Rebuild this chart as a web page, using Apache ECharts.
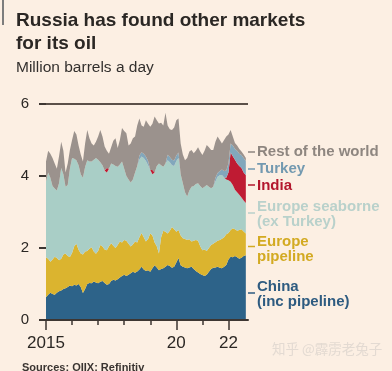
<!DOCTYPE html>
<html>
<head>
<meta charset="utf-8">
<script src="https://cdn.jsdelivr.net/npm/echarts@6/dist/echarts.min.js"></script>
<style>
html,body{margin:0;padding:0;background:#fcefe3;}
#chart{width:392px;height:371px;}
</style>
</head>
<body>
<div id="chart"></div>
<script>
// Monthly categories, Jan 2015 .. Oct 2022 (last category is the axis end, no data)
const startYear = 2015;
const monthCount = 94;
const months = Array.from({length: monthCount}, (_, i) =>
  (startYear + Math.floor(i / 12)) + '-' + String(i % 12 + 1).padStart(2, '0'));

const xLabelMonths = ['2015-01', '2020-01', '2022-01'];
const xLabelText = {'2015-01': '2015', '2020-01': '20', '2022-01': '22'};

const china = [
0.63,0.70,0.76,0.72,0.70,0.76,0.80,0.82,0.86,0.88,0.92,0.96,
0.94,0.98,0.96,1.00,0.92,0.75,0.86,1.00,1.03,1.02,1.07,1.04,
1.02,1.06,1.08,1.03,0.98,1.00,1.08,1.12,1.10,1.13,1.18,1.22,
1.26,1.22,1.26,1.30,1.34,1.31,1.35,1.40,1.48,1.40,1.36,1.38,
1.34,1.44,1.52,1.46,1.38,1.42,1.44,1.48,1.53,1.50,1.45,1.48,
1.60,1.72,1.52,1.48,1.46,1.44,1.46,1.48,1.42,1.36,1.32,1.28,
1.25,1.22,1.26,1.34,1.42,1.45,1.46,1.48,1.45,1.44,1.48,1.53,
1.68,1.76,1.74,1.78,1.74,1.70,1.73,1.78,1.80];

const europePipeline = [
1.11,1.00,0.86,0.96,1.06,0.96,0.86,0.88,0.96,0.97,0.86,0.79,
0.92,1.07,1.16,0.95,0.93,1.07,1.04,0.92,0.95,1.00,0.83,0.80,
0.90,1.02,0.96,0.93,0.96,1.05,1.05,0.94,0.90,0.95,1.00,0.93,
0.96,0.98,0.86,0.74,0.76,0.87,0.80,0.90,0.94,0.90,0.82,0.87,
1.06,0.91,0.63,0.59,0.47,0.88,1.04,0.97,0.87,0.98,1.13,1.04,
0.85,0.78,0.83,0.79,0.79,0.78,0.78,0.70,0.78,0.86,0.88,0.77,
0.69,0.74,0.66,0.66,0.66,0.67,0.70,0.72,0.77,0.82,0.82,0.85,
0.74,0.74,0.81,0.74,0.74,0.80,0.79,0.68,0.60];

const europeSeaborne = [
2.11,2.40,2.33,2.04,1.89,1.88,2.14,2.52,2.23,1.85,1.97,2.45,
2.64,2.43,2.32,2.35,2.20,2.13,2.35,2.52,2.42,2.38,2.55,2.66,
2.53,2.30,2.26,2.19,2.16,2.15,2.22,2.26,2.28,2.18,2.14,2.25,
1.98,1.80,1.78,1.78,1.80,1.92,2.13,2.15,2.12,2.20,2.24,2.05,
1.77,1.70,1.95,2.23,2.50,2.00,1.78,1.90,2.04,1.90,1.72,1.76,
1.97,2.00,1.70,1.53,1.30,1.21,1.36,1.52,1.52,1.56,1.60,1.67,
1.72,1.74,1.83,1.70,1.58,1.58,1.69,1.78,1.80,1.77,1.66,1.52,
1.46,1.34,1.20,1.10,1.07,0.98,0.88,0.86,0.85];

const india = [
0,0,0,0,0,0,0,0,0,0,0,0,
0,0,0,0,0,0,0,0,0,0,0,0,
0,0,0,0,0.12,0,0,0,0,0,0,0,
0,0,0,0,0,0,0,0,0,0,0,0,
0,0.12,0,0,0,0,0,0,0,0,0,0,
0,0,0,0,0,0,0,0,0,0,0,0,
0,0,0,0,0,0,0,0,0,0,0,0.05,
0.22,0.81,0.80,0.83,0.80,0.80,0.82,0.78,0.77];

const turkey = [
0,0,0,0,0,0,0,0,0,0,0,0,
0,0,0,0,0,0,0,0,0,0,0,0,
0,0,0,0,0,0,0,0,0,0,0,0,
0,0,0,0,0,0,0,0.12,0.12,0.12,0.12,0.12,
0,0,0,0,0,0,0,0,0.15,0.15,0.15,0.15,
0.15,0.15,0,0,0,0,0,0,0,0,0,0,
0,0,0,0,0,0,0.10,0.10,0.12,0.15,0.18,0.20,
0.25,0.25,0.30,0.30,0.35,0.34,0.36,0.40,0.40];

const restOfWorld = [
0.55,0.60,0.67,0.78,0.70,0.60,0.75,0.73,0.65,0.40,0.60,0.52,
0.50,0.77,0.71,0.55,0.55,0.45,0.65,0.84,0.65,0.50,0.40,0.45,
0.65,0.90,0.80,0.67,0.48,0.42,0.45,0.66,0.77,0.52,0.68,0.93,
1.05,1.19,0.95,1.08,1.15,1.00,1.12,1.03,0.74,0.75,1.01,1.03,
1.20,1.28,1.55,1.27,1.11,1.18,1.14,1.41,0.81,0.77,0.83,0.92,
0.98,0.95,0.85,0.80,0.89,1.07,1.08,1.02,0.91,0.92,1.00,0.96,
0.92,1.00,1.11,1.10,1.06,1.02,1.00,1.02,0.86,0.72,0.86,0.95,
0.80,0.38,0.25,0.17,0.15,0.13,0.10,0.10,0.08];

const seriesNames = ['China (inc pipeline)', 'Europe pipeline', 'Europe seaborne (ex Turkey)', 'India', 'Turkey', 'Rest of the world'];
const seriesValues = [china, europePipeline, europeSeaborne, india, turkey, restOfWorld];
const seriesColors = ['#2d6389', '#dbb42f', '#a9cec6', '#bf1b33', '#82a7bc', '#9b928d'];

const FONT = '"Liberation Sans", Arial, sans-serif';

const chart = echarts.init(document.getElementById('chart'), null, {renderer: 'canvas'});

const series = seriesValues.map((vals, k) => ({
  name: seriesNames[k],
  type: 'line',
  stack: 'total',
  symbol: 'none',
  showSymbol: false,
  lineStyle: {width: 0},
  areaStyle: {color: seriesColors[k], opacity: 1},
  itemStyle: {color: seriesColors[k]},
  data: vals,
  z: 2
}));

const labelDefs = [
  {lines: ['Rest of the world'], y: 152, color: '#8e8680', tickY: 152},
  {lines: ['Turkey'], y: 169.5, color: '#7399b0', tickY: 169},
  {lines: ['India'], y: 186, color: '#b3172d', tickY: 185},
  {lines: ['Europe seaborne', '(ex Turkey)'], y: 207, color: '#b9d1cb', tickY: 213},
  {lines: ['Europe', 'pipeline'], y: 242, color: '#d3aa22', tickY: 246.5},
  {lines: ['China', '(inc pipeline)'], y: 287, color: '#2e5b80', tickY: 293}
];

const graphics = [
  {type: 'rect', left: 2, top: 0, shape: {width: 2, height: 25}, style: {fill: '#7d7d7d'}},
  {type: 'text', left: 16, top: 11, style: {text: 'Russia has found other markets', font: 'bold 19px ' + FONT, fill: '#2b2724'}},
  {type: 'text', left: 16, top: 34, style: {text: 'for its oil', font: 'bold 19px ' + FONT, fill: '#2b2724'}},
  {type: 'text', left: 16, top: 60, style: {text: 'Million barrels a day', font: '15.5px ' + FONT, fill: '#33302e'}},
  {type: 'text', left: 22, top: 362, style: {text: 'Sources: OIIX; Refinitiv', font: 'bold 11px ' + FONT, fill: '#3a3431'}},
  {type: 'text', left: 272, top: 342, style: {text: '知乎 @霹雳老兔子', font: '13.5px "Noto Sans CJK SC"', fill: '#e3dad2'}}
];
labelDefs.forEach(d => {
  graphics.push({type: 'line', shape: {x1: 248, y1: d.tickY, x2: 255, y2: d.tickY}, style: {stroke: d.color, lineWidth: 1.5}});
  d.lines.forEach((t, j) => {
    graphics.push({type: 'text', left: 257, top: d.y - 8 + j * 15.5, style: {text: t, font: 'bold 15px ' + FONT, fill: d.color}});
  });
});

const isYearStart = (idx) => idx % 12 === 0;
const isLabelled = (idx) => xLabelMonths.indexOf(months[idx]) >= 0;

chart.setOption({
  animation: false,
  backgroundColor: '#fcefe3',
  grid: {left: 46, width: 202, top: 104, bottom: 51, containLabel: false},
  xAxis: [{
    type: 'category', data: months, boundaryGap: false,
    axisLine: {show: true, lineStyle: {color: '#3d3632', width: 2}},
    axisTick: {show: true, interval: isYearStart, length: 5, lineStyle: {color: '#3d3632', width: 1.5}},
    axisLabel: {show: true, interval: isLabelled, formatter: v => xLabelText[v] || '', margin: 15,
      color: '#2b2724', fontSize: 17, fontFamily: FONT},
    splitLine: {show: false},
    z: 5
  }, {
    type: 'category', data: months, boundaryGap: false, position: 'bottom',
    axisLine: {show: false},
    axisTick: {show: true, interval: isLabelled, length: 10, lineStyle: {color: '#3d3632', width: 1.5}},
    axisLabel: {show: false},
    splitLine: {show: false},
    z: 5
  }],
  yAxis: {
    type: 'value', min: 0, max: 6, interval: 2,
    axisLine: {show: false},
    axisTick: {show: true, length: 7, lineStyle: {color: '#3d3632', width: 2}},
    axisLabel: {margin: 17, color: '#2b2724', fontSize: 15, fontFamily: FONT},
    splitLine: {show: true, lineStyle: {color: ['rgba(0,0,0,0)', 'rgba(0,0,0,0)', 'rgba(0,0,0,0)', '#5b5049'], width: 2}},
    z: 5
  },
  series: series,
  graphic: graphics
});
</script>
</body>
</html>
